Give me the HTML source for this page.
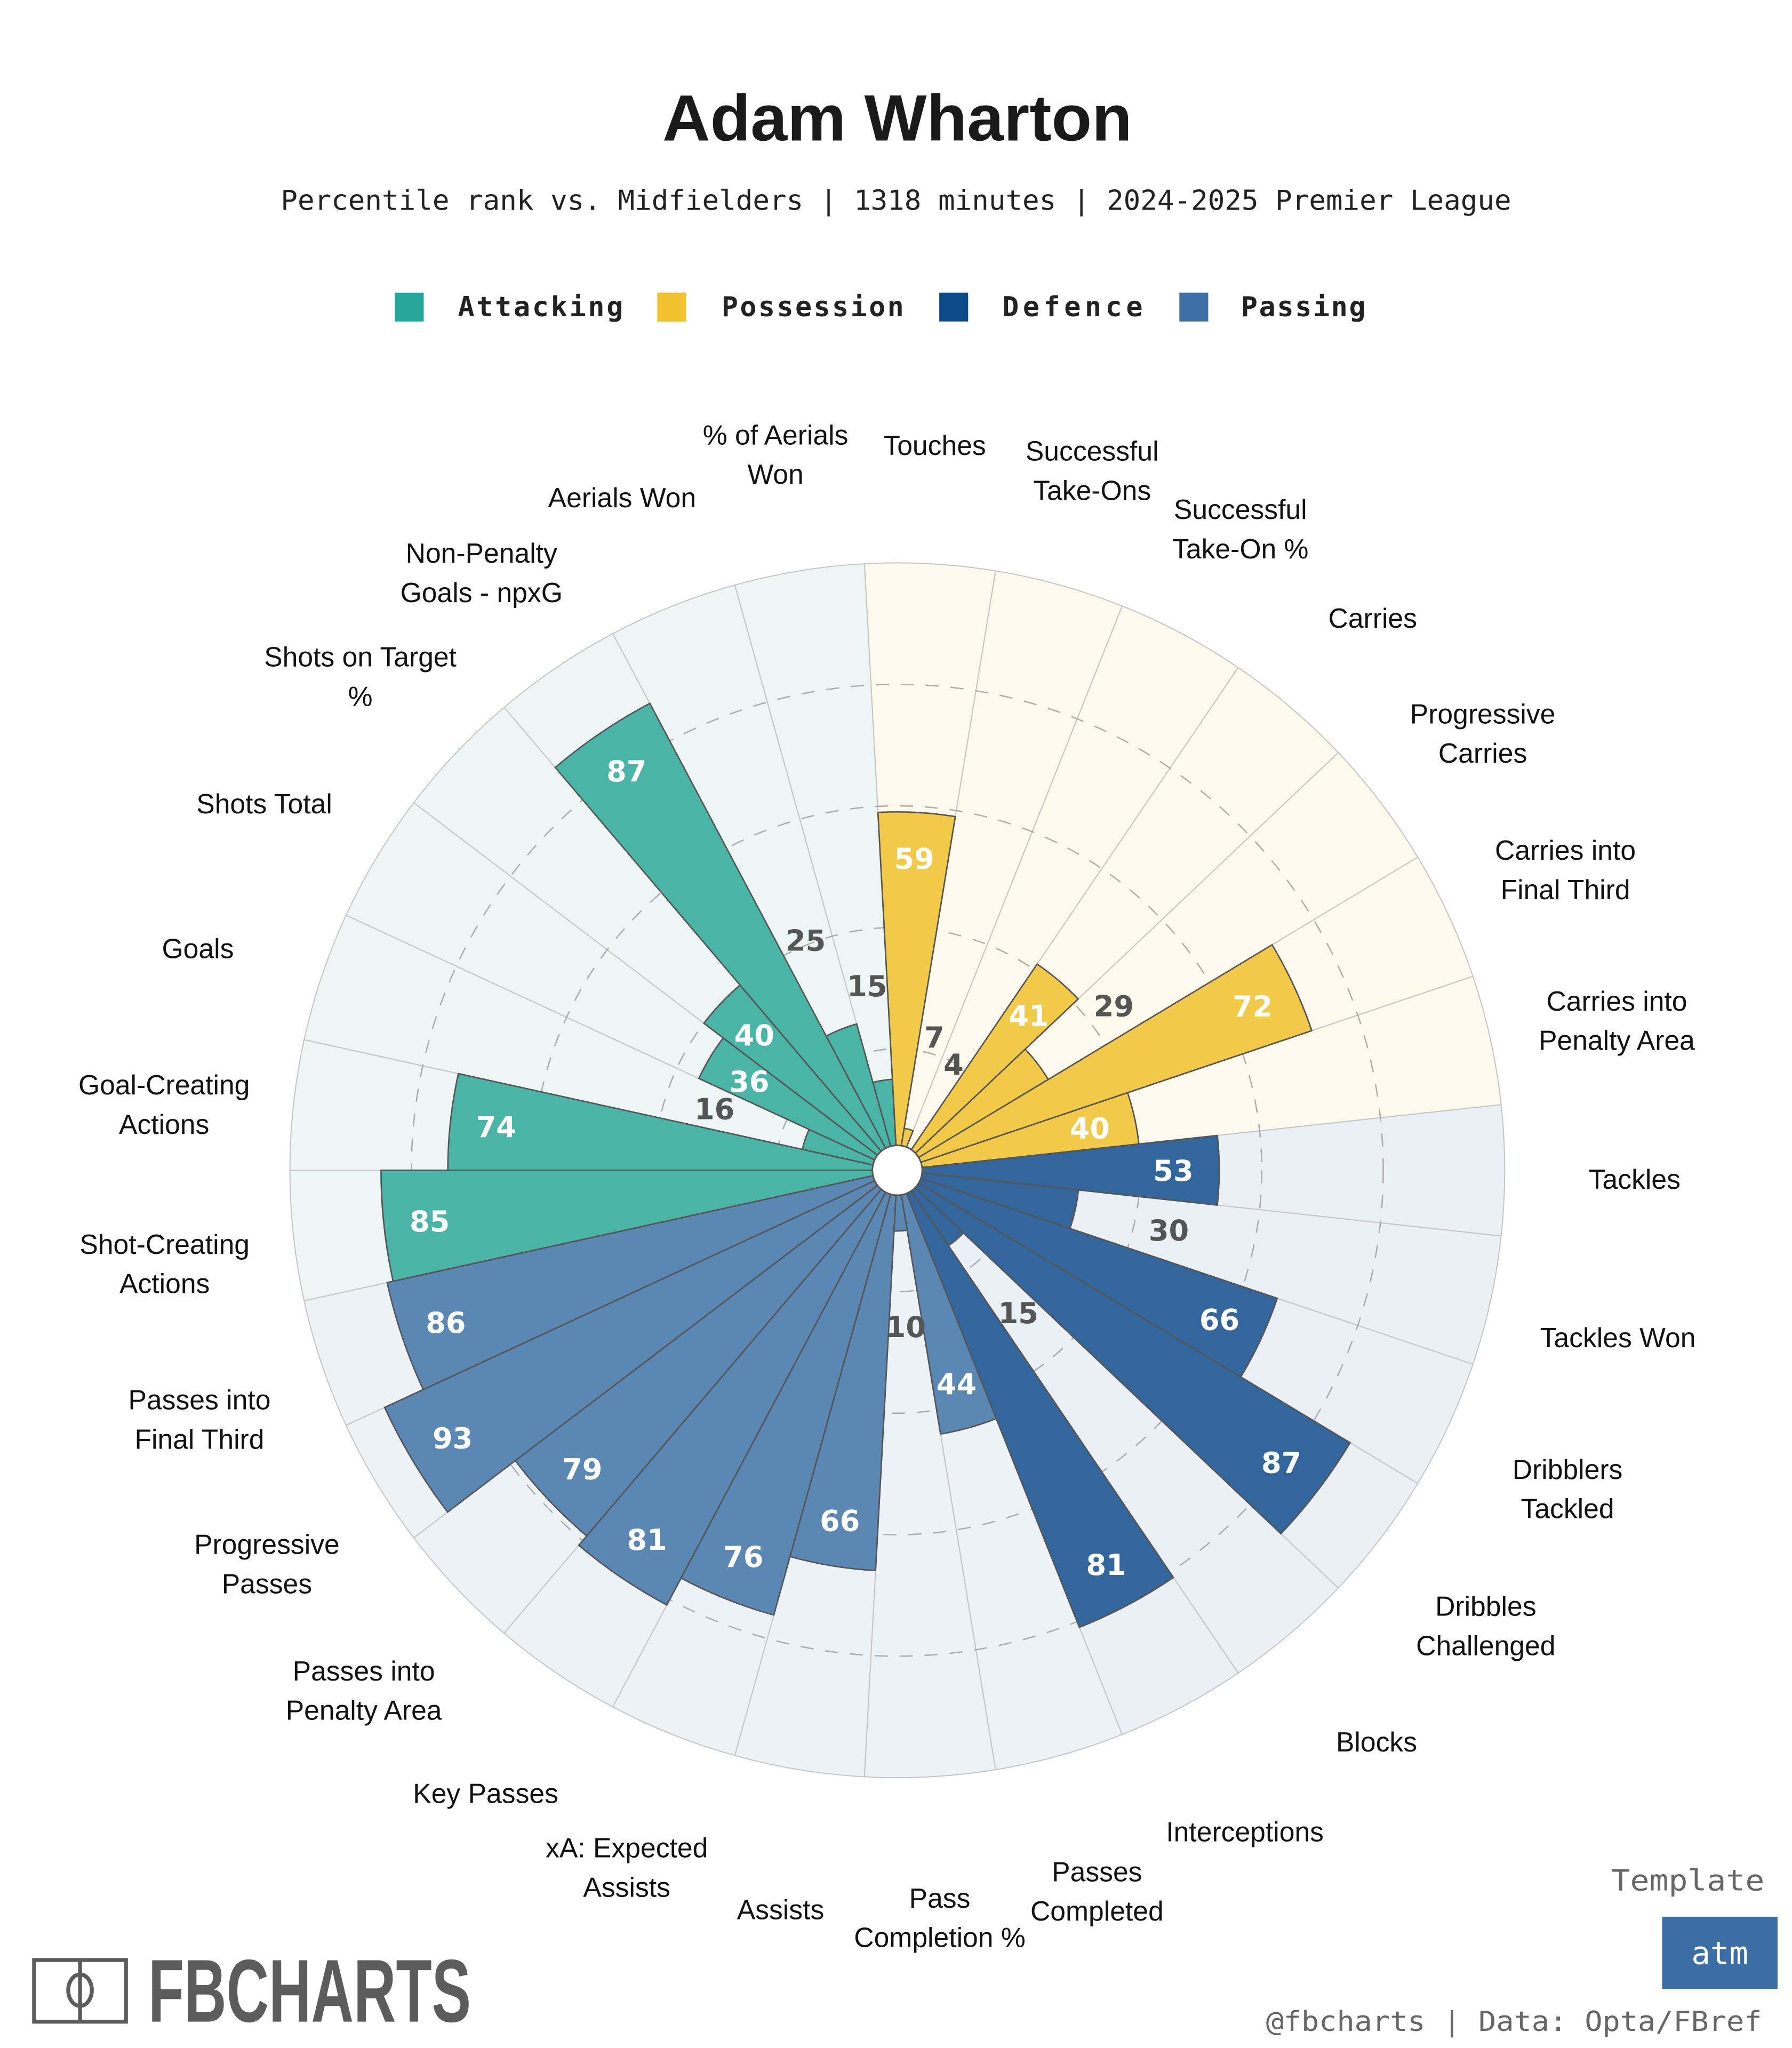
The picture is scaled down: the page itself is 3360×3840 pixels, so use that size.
<!DOCTYPE html>
<html><head><meta charset="utf-8"><style>
html,body{margin:0;padding:0;background:#fff;}
svg{display:block;}
</style></head><body>
<svg id="chart" width="3360" height="3840" viewBox="0 0 1366 1561" xmlns="http://www.w3.org/2000/svg">
<rect width="1366" height="1561" fill="#fff"/>
<text x="684" y="107" text-anchor="middle" font-family="Liberation Sans, sans-serif" font-weight="bold" font-size="50" fill="#1a1a1a" textLength="358" lengthAdjust="spacingAndGlyphs">Adam Wharton</text>
<text x="214" y="160" font-family="DejaVu Sans Mono, Liberation Mono, monospace" font-size="21" fill="#222" textLength="938" lengthAdjust="spacingAndGlyphs">Percentile rank vs. Midfielders | 1318 minutes | 2024-2025 Premier League</text>
<g id="legend" font-family="DejaVu Sans Mono, Liberation Mono, monospace" font-weight="bold" font-size="21" fill="#222">
<g><rect x="301" y="223" width="22" height="22" fill="#26a69a"/><text x="349" y="241" textLength="126" lengthAdjust="spacing">Attacking</text></g>
<g><rect x="501" y="223" width="22" height="22" fill="#f2c12e"/><text x="550" y="241" textLength="139" lengthAdjust="spacing">Possession</text></g>
<g><rect x="716" y="223" width="22" height="22" fill="#0d4a8a"/><text x="764" y="241" textLength="107" lengthAdjust="spacing">Defence</text></g>
<g><rect x="899" y="223" width="22" height="22" fill="#3e6fa5"/><text x="946" y="241" textLength="95" lengthAdjust="spacing">Passing</text></g>
</g>
<g id="bg"></g><g id="rings"></g><g id="bars"></g><g id="vals"></g><g id="cats"></g>
<circle cx="684" cy="892" r="19" fill="#fff" stroke="#555" stroke-width="1.2"/>
<g fill="none" stroke="#5c5c5c" stroke-width="3">
<rect x="26" y="1494" width="70" height="47"/><line x1="61" y1="1494" x2="61" y2="1541"/><ellipse cx="61" cy="1517" rx="9" ry="12"/>
</g>
<text x="113" y="1541" font-family="Liberation Sans Narrow, Liberation Sans, sans-serif" font-weight="bold" font-size="68" fill="#5c5c5c" textLength="246" lengthAdjust="spacingAndGlyphs">FBCHARTS</text>
<text x="1345" y="1441" text-anchor="end" font-family="DejaVu Sans Mono, monospace" font-size="22" fill="#666" textLength="117" lengthAdjust="spacingAndGlyphs">Template</text>
<rect x="1267" y="1461" width="88" height="55" fill="#3a6ea5"/>
<text x="1311" y="1497" text-anchor="middle" font-family="DejaVu Sans Mono, monospace" font-size="24" fill="#fff">atm</text>
<text x="965" y="1548" font-family="DejaVu Sans Mono, monospace" font-size="21" fill="#666" textLength="378" lengthAdjust="spacingAndGlyphs">@fbcharts | Data: Opta/FBref</text>
</svg>
<script>
const categories = ["Touches","Successful\nTake-Ons","Successful\nTake-On %","Carries","Progressive\nCarries","Carries into\nFinal Third","Carries into\nPenalty Area",
"Tackles","Tackles Won","Dribblers\nTackled","Dribbles\nChallenged","Blocks","Interceptions",
"Passes\nCompleted","Pass\nCompletion %","Assists","xA: Expected\nAssists","Key Passes","Passes into\nPenalty Area","Progressive\nPasses","Passes into\nFinal Third",
"Shot-Creating\nActions","Goal-Creating\nActions","Goals","Shots Total","Shots on Target\n%","Non-Penalty\nGoals - npxG","Aerials Won","% of Aerials\nWon"];
const groups = ["pos","pos","pos","pos","pos","pos","pos","def","def","def","def","def","def",
"pas","pas","pas","pas","pas","pas","pas","pas","att","att","att","att","att","att","att","att"];
const values = [59,7,4,41,29,72,40, 53,30,66,87,15,81, 44,10,66,76,81,79,93,86, 85,74,16,36,40,87,25,15];
const ringTicks = [20,40,60,80];

const NS="http://www.w3.org/2000/svg";
const cx=684, cy=892, R=463, n=categories.length, step=360/n, rot=-3.1;
const barCol={att:"#4ab5a6",pos:"#f3c94a",def:"#32669c",pas:"#5a87b4"};
const bgCol={att:"#edf6f4",pos:"#fdf9ec",def:"#ebeff6",pas:"#edf2f7"};
function rScale(v){return v/100*R;}
function aScale(i){return rot+i*step;}
function pt(r,deg){const a=deg*Math.PI/180;return [cx+r*Math.sin(a),cy-r*Math.cos(a)];}
function wedge(r,a0,a1){const p0=pt(r,a0),p1=pt(r,a1);return `M${cx},${cy}L${p0[0]},${p0[1]}A${r},${r} 0 0 1 ${p1[0]},${p1[1]}Z`;}
function mk(tag,parent){const e=document.createElementNS(NS,tag);document.getElementById(parent).appendChild(e);return e;}

for(let i=0;i<n;i++){
  const b=mk("path","bg");
  
  
  b.setAttribute("d",wedge(R,aScale(i),aScale(i+1)));
  b.setAttribute("fill",bgCol[groups[i]]);b.setAttribute("stroke","#c4c4c4");b.setAttribute("stroke-width","0.8");
}
ringTicks.forEach(t=>{
  const c=mk("circle","rings");
  
  
  c.setAttribute("cx",cx);c.setAttribute("cy",cy);c.setAttribute("r",rScale(t));
  c.setAttribute("fill","none");c.setAttribute("stroke","#999");c.setAttribute("stroke-width","1");c.setAttribute("stroke-dasharray","10 9");c.setAttribute("opacity","0.8");
});
for(let i=0;i<n;i++){
  const b=mk("path","bars");
  
  
  b.setAttribute("d",wedge(rScale(values[i]),aScale(i),aScale(i+1)));
  b.setAttribute("fill",barCol[groups[i]]);b.setAttribute("stroke","#555");b.setAttribute("stroke-width","1.1");
  const mid=aScale(i+0.5), v=values[i], inside=v>30;
  const p=pt(inside?rScale(v)-35:rScale(v)+73,mid);
  const t=mk("text","vals");
  
  
  t.setAttribute("x",p[0]);t.setAttribute("y",p[1]+8);t.setAttribute("text-anchor","middle");
  t.setAttribute("font-family","DejaVu Sans, sans-serif");t.setAttribute("font-weight","bold");t.setAttribute("font-size","22");
  t.setAttribute("fill",inside?"#fff":"#555");t.textContent=v;
  const lines=categories[i].split("\n");
  const q=pt(562,mid-0.2);
  const g=mk("text","cats");
  
  
  g.setAttribute("text-anchor","middle");g.setAttribute("font-family","Liberation Sans, sans-serif");g.setAttribute("font-size","21");g.setAttribute("fill","#111");
  const y0=q[1]+16-(lines.length-1)*15;
  lines.forEach((ln,k)=>{const s=document.createElementNS(NS,"tspan");s.setAttribute("x",q[0]);s.setAttribute("y",y0+k*30);s.textContent=ln;g.appendChild(s);});
}
</script>
</body></html>
